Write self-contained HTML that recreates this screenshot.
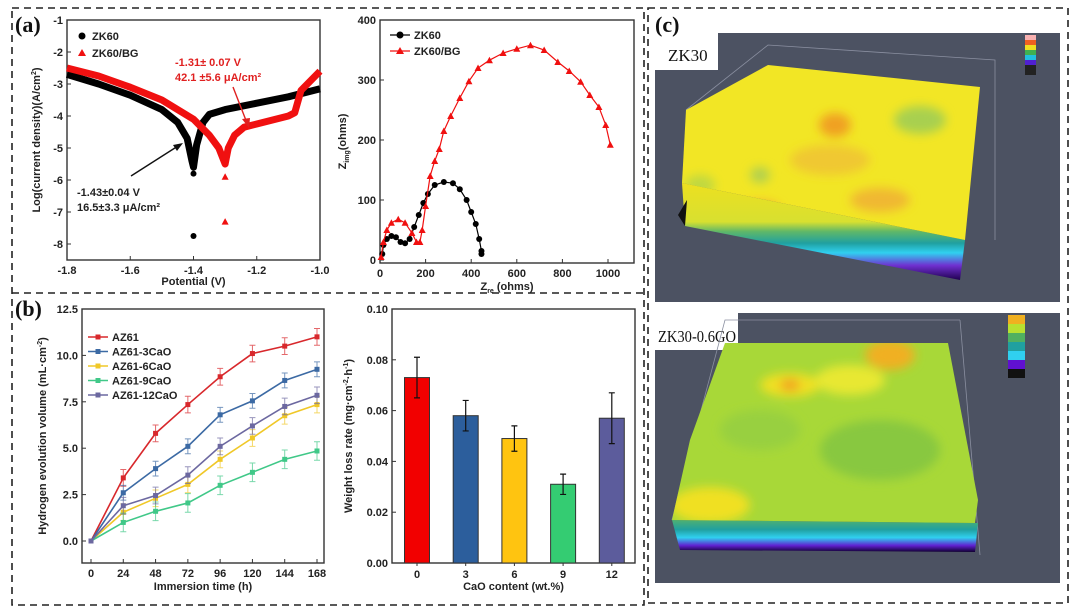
<!DOCTYPE html>
<html><head><meta charset="utf-8">
<style>
body{margin:0;background:#fff;}
svg{display:block;font-family:"Liberation Sans",Arial,sans-serif;}
.tk{font-size:11px;font-weight:bold;fill:#222;}
.ax{font-size:11px;font-weight:bold;fill:#222;}
.lg{font-size:11px;font-weight:bold;fill:#222;}
.pl{font-family:"Liberation Serif",serif;font-weight:bold;font-size:22px;fill:#111;}
</style></head>
<body>
<svg id="fig" width="1080" height="614" viewBox="0 0 1080 614" xmlns="http://www.w3.org/2000/svg">
<defs>
 <filter id="blur4"><feGaussianBlur stdDeviation="5"/></filter>
 <linearGradient id="sideA" x1="0" y1="0" x2="0" y2="1">
  <stop offset="0" stop-color="#ece020"/><stop offset="0.4" stop-color="#d8e030"/><stop offset="0.5" stop-color="#60b868"/><stop offset="0.62" stop-color="#20a0a0"/><stop offset="0.72" stop-color="#30d0f0"/><stop offset="0.85" stop-color="#7030d0"/><stop offset="1" stop-color="#200050"/>
 </linearGradient>
 <linearGradient id="sideB" x1="0" y1="0" x2="0" y2="1">
  <stop offset="0" stop-color="#50b070"/><stop offset="0.3" stop-color="#20a0a0"/><stop offset="0.55" stop-color="#30d0f0"/><stop offset="0.8" stop-color="#6020d0"/><stop offset="1" stop-color="#100030"/>
 </linearGradient>
 <clipPath id="clipTop"><polygon points="768,65 980,87 965,240 682,183 686,110"/></clipPath>
 <clipPath id="clipBot"><polygon points="725,343 948,343 978,500 975,523 672,520 690,440"/></clipPath>
</defs>

<g fill="none" stroke="#222" stroke-width="1.6" stroke-dasharray="7,5">
 <rect x="12" y="8" width="632" height="597"/>
 <line x1="12" y1="293" x2="644" y2="293"/>
 <rect x="648" y="8" width="420" height="595"/>
</g>
<text class="pl" x="15" y="32">(a)</text>
<text class="pl" x="15" y="316">(b)</text>
<text class="pl" x="655" y="32">(c)</text>

<g id="gTafel"></g>
<g id="gNyq"></g>
<g id="gH2"></g>
<g id="gBar"></g>

<g>
 <polygon points="718,33 1060,33 1060,302 655,302 655,70 718,70" fill="#4c5262"/>
 <text x="668" y="61" font-family="Liberation Serif,serif" font-size="17" fill="#111">ZK30</text>
 <polyline points="686,110 768,45 995,60 995,240" fill="none" stroke="#8a8fa0" stroke-width="0.8"/>
 <polygon points="682,183 965,240 960,280 685,226" fill="url(#sideA)"/>
 <polygon points="678,215 685,226 687,200" fill="#111"/>
 <polygon points="768,65 980,87 965,240 682,183 686,110" fill="#f2e625"/>
 <g clip-path="url(#clipTop)" filter="url(#blur4)">
  <ellipse cx="835" cy="125" rx="16" ry="12" fill="#f0a020"/>
  <ellipse cx="920" cy="120" rx="26" ry="14" fill="#a8d050"/>
  <ellipse cx="760" cy="175" rx="10" ry="8" fill="#b0d050"/>
  <ellipse cx="760" cy="210" rx="20" ry="8" fill="#f0a030"/>
  <ellipse cx="880" cy="200" rx="30" ry="12" fill="#f0b830"/>
  <ellipse cx="830" cy="160" rx="40" ry="15" fill="#f0c830"/>
  <ellipse cx="700" cy="185" rx="15" ry="10" fill="#c0d840"/>
 </g>
 <rect x="1025" y="35" width="11" height="40" fill="#222"/>
 <rect x="1025" y="35" width="11" height="5" fill="#f8b0b0"/><rect x="1025" y="40" width="11" height="5" fill="#f06020"/><rect x="1025" y="45" width="11" height="5" fill="#f0e020"/><rect x="1025" y="50" width="11" height="5" fill="#40b050"/><rect x="1025" y="55" width="11" height="5" fill="#20c0e0"/><rect x="1025" y="60" width="11" height="5" fill="#5020d0"/>
</g>

<g>
 <polygon points="738,313 1060,313 1060,583 655,583 655,350 738,350" fill="#4c5262"/>
 <text x="658" y="342" font-family="Liberation Serif,serif" font-size="17" textLength="78" lengthAdjust="spacingAndGlyphs" fill="#111">ZK30-0.6GO</text>
 <polyline points="672,520 725,320 960,320" fill="none" stroke="#8a8fa0" stroke-width="0.8"/>
 <line x1="960" y1="320" x2="980" y2="555" stroke="#8a8fa0" stroke-width="0.8"/>
 <polygon points="672,520 978,523 975,552 680,550" fill="url(#sideB)"/>
 <polygon points="725,343 948,343 978,500 975,523 672,520 690,440" fill="#a8d838"/>
 <g clip-path="url(#clipBot)" filter="url(#blur4)">
  <ellipse cx="890" cy="355" rx="25" ry="15" fill="#f0b020"/>
  <ellipse cx="790" cy="385" rx="30" ry="12" fill="#f0e020"/>
  <ellipse cx="790" cy="385" rx="10" ry="6" fill="#f0a020"/>
  <ellipse cx="850" cy="380" rx="35" ry="15" fill="#e8e830"/>
  <ellipse cx="710" cy="505" rx="40" ry="18" fill="#f0e020"/>
  <ellipse cx="880" cy="450" rx="60" ry="30" fill="#88c840"/>
  <ellipse cx="760" cy="430" rx="40" ry="20" fill="#98d040"/>
 </g>
 <rect x="1008" y="315" width="17" height="63" fill="#111"/>
 <rect x="1008" y="315" width="17" height="9" fill="#f0b020"/><rect x="1008" y="324" width="17" height="9" fill="#b8e030"/><rect x="1008" y="333" width="17" height="9" fill="#50b060"/><rect x="1008" y="342" width="17" height="9" fill="#20a0a0"/><rect x="1008" y="351" width="17" height="9" fill="#30d0f0"/><rect x="1008" y="360" width="17" height="9" fill="#6010d0"/>
</g>

<script>
const tafelBlackE=[-1.8,-1.7,-1.6,-1.5,-1.45,-1.42,-1.405,-1.40,-1.39,-1.37,-1.35,-1.3,-1.2,-1.1,-1.0];
const tafelBlackI=[-2.7,-3.0,-3.35,-3.8,-4.2,-4.7,-5.4,-5.6,-4.9,-4.2,-3.95,-3.8,-3.6,-3.4,-3.15];
const tafelRedE=[-1.8,-1.7,-1.6,-1.5,-1.4,-1.35,-1.32,-1.30,-1.29,-1.27,-1.24,-1.2,-1.1,-1.08,-1.06,-1.03,-1.0];
const tafelRedI=[-2.5,-2.75,-3.1,-3.5,-4.1,-4.6,-5.0,-5.5,-5.0,-4.6,-4.35,-4.25,-4.0,-3.9,-3.2,-2.9,-2.6];
const tafelOutE=[-1.4,-1.4,-1.3,-1.3];
const tafelOutI=[-5.8,-7.75,-5.9,-7.3];
const tafelXTicks=[-1.8,-1.6,-1.4,-1.2,-1.0];
const tafelYTicks=[-1,-2,-3,-4,-5,-6,-7,-8];

const nyqBlackRe=[10,15,30,50,70,90,110,130,150,170,190,210,240,280,320,350,380,400,420,435,445,445];
const nyqBlackIm=[10,25,35,40,38,30,28,35,55,75,95,110,125,130,128,118,100,80,60,35,15,10];
const nyqRedRe=[5,15,30,50,80,110,140,160,175,185,200,220,240,260,280,310,350,390,430,480,540,600,660,720,780,830,880,920,960,990,1010];
const nyqRedIm=[5,30,50,62,68,62,45,30,30,50,90,140,165,185,215,240,270,298,320,333,345,352,358,350,330,315,297,275,255,225,192];
const nyqXTicks=[0,200,400,600,800,1000];
const nyqYTicks=[0,100,200,300,400];

const h2Times=[0,24,48,72,96,120,144,168];
const h2Names=["AZ61","AZ61-3CaO","AZ61-6CaO","AZ61-9CaO","AZ61-12CaO"];
const h2AZ61=[0,3.4,5.8,7.35,8.85,10.1,10.5,11.0];
const h2Ca3=[0,2.6,3.9,5.1,6.8,7.55,8.65,9.25];
const h2Ca6=[0,1.55,2.3,3.05,4.4,5.55,6.75,7.35];
const h2Ca9=[0,1.0,1.6,2.05,3.0,3.7,4.4,4.85];
const h2Ca12=[0,1.9,2.45,3.55,5.1,6.2,7.25,7.85];
const h2Err=[0.45,0.4,0.45,0.5,0.45];
const h2YTicks=[0,2.5,5,7.5,10,12.5];

const barCats=["0","3","6","9","12"];
const barVals=[0.073,0.058,0.049,0.031,0.057];
const barErrs=[0.008,0.006,0.005,0.004,0.010];
const barYTicks=[0,0.02,0.04,0.06,0.08,0.10];

const NS="http://www.w3.org/2000/svg";
function mk(parent,tag,attrs){const e=document.createElementNS(NS,tag);for(const k in attrs)e.setAttribute(k,attrs[k]);parent.appendChild(e);return e;}
function lin(d0,d1,r0,r1){return v=>r0+(v-d0)*(r1-r0)/(d1-d0);}
function frame(g,x0,y0,x1,y1){const r=mk(g,'rect',{x:x0,y:y0,width:x1-x0,height:y1-y0,fill:'none',stroke:'#333','stroke-width':1.4});

}
function txt(g,x,y,s,cls,anchor,name){const t=mk(g,'text',{x:x,y:y,class:cls,'text-anchor':anchor||'middle'});t.textContent=s;

return t;}
// rich text: parts = [[text, 'n'|'sup'|'sub'], ...]
function rich(g,x,y,parts,name,rot){const t=mk(g,'text',{x:0,y:0,class:'ax','text-anchor':'middle'});
 
 
 let cur=0;
 parts.forEach(p=>{const target=p[1]==='sup'?-4:p[1]==='sub'?3:0;const ts=mk(t,'tspan',{dy:target-cur});if(p[1]!=='n')ts.setAttribute('font-size','7');ts.textContent=p[0];cur=target;});
 t.setAttribute('transform',`translate(${x},${y})`+(rot?' rotate(-90)':''));return t;}

(function(){
 const g=document.getElementById('gTafel');
 const X0=67,X1=320,Y0=20,Y1=260;
 const sx=lin(-1.8,-1.0,X0,X1), sy=lin(-1,-8,20,244);
 frame(g,X0,Y0,X1,Y1);
 tafelXTicks.forEach(v=>{mk(g,'line',{x1:sx(v),x2:sx(v),y1:Y1,y2:Y1-4,stroke:'#333'});txt(g,sx(v),Y1+14,v.toFixed(1),'tk','middle','x-tick-label');});
 tafelYTicks.forEach(v=>{mk(g,'line',{x1:X0,x2:X0+4,y1:sy(v),y2:sy(v),stroke:'#333'});txt(g,X0-4,sy(v)+4,String(v),'tk','end','y-tick-label');});
 const lineB=mk(g,'polyline',{points:tafelBlackE.map((e,i)=>sx(e)+','+sy(tafelBlackI[i])).join(' '),fill:'none',stroke:'#000','stroke-width':7,'stroke-linejoin':'round'});
 
 
 const lineR=mk(g,'polyline',{points:tafelRedE.map((e,i)=>sx(e)+','+sy(tafelRedI[i])).join(' '),fill:'none',stroke:'#f01010','stroke-width':7,'stroke-linejoin':'round'});
 
 
 tafelOutE.forEach((e,i)=>{const x=sx(e),y=sy(tafelOutI[i]);let m;
  if(i<2)m=mk(g,'circle',{cx:x,cy:y,r:3,fill:'#000'});else m=mk(g,'polygon',{points:`${x},${y-3.5} ${x-3.5},${y+3} ${x+3.5},${y+3}`,fill:'#f01010'});
  
  });
 txt(g,(X0+X1)/2,285,'Potential (V)','ax','middle','x-axis-title');
 rich(g,40,(Y0+Y1)/2,[['Log(current density)(A/cm','n'],['2','sup'],[')','n']],'y-axis-title',true);
 mk(g,'circle',{cx:82,cy:36,r:3.5,fill:'#000'});txt(g,92,40,'ZK60','lg','start','legend-entry-zk60');
 mk(g,'polygon',{points:'82,49 78,56 86,56',fill:'#f01010'});txt(g,92,57,'ZK60/BG','lg','start','legend-entry-zk60-bg');
 const a1=txt(g,175,66,'-1.31± 0.07 V','lg','start','zk60-bg-annotation');a1.style.fill='#e02020';
 const a2=txt(g,175,81,'42.1 ±5.6 μA/cm²','lg','start','zk60-bg-annotation-current');a2.style.fill='#e02020';
 mk(g,'line',{x1:233,y1:87,x2:247,y2:123,stroke:'#e02020','stroke-width':1.4});
 mk(g,'polygon',{points:'249,128 242,119 250,118',fill:'#e02020'});
 txt(g,77,196,'-1.43±0.04 V','lg','start','zk60-annotation');
 txt(g,77,211,'16.5±3.3 μA/cm²','lg','start','zk60-annotation-current');
 mk(g,'line',{x1:131,y1:176,x2:178,y2:146,stroke:'#111','stroke-width':1.4});
 mk(g,'polygon',{points:'183,143 173,145 177,151',fill:'#111'});
})();

(function(){
 const g=document.getElementById('gNyq');
 const X0=380,X1=634,Y0=20,Y1=263;
 const sx=lin(0,1000,X0,608), sy=lin(0,400,260,20);
 frame(g,X0,Y0,X1,Y1);
 nyqXTicks.forEach(v=>{mk(g,'line',{x1:sx(v),x2:sx(v),y1:Y1,y2:Y1-4,stroke:'#333'});txt(g,sx(v),Y1+14,String(v),'tk','middle','x-tick-label');});
 nyqYTicks.forEach(v=>{mk(g,'line',{x1:X0,x2:X0+4,y1:sy(v),y2:sy(v),stroke:'#333'});txt(g,X0-4,sy(v)+4,String(v),'tk','end','y-tick-label');});
 const pb=mk(g,'polyline',{points:nyqBlackRe.map((r,i)=>sx(r)+','+sy(nyqBlackIm[i])).join(' '),fill:'none',stroke:'#000','stroke-width':1.2});
 
 
 nyqBlackRe.forEach((r,i)=>{const c=mk(g,'circle',{cx:sx(r),cy:sy(nyqBlackIm[i]),r:3,fill:'#000'});
  
  });
 const pr=mk(g,'polyline',{points:nyqRedRe.map((r,i)=>sx(r)+','+sy(nyqRedIm[i])).join(' '),fill:'none',stroke:'#f01010','stroke-width':1.2});
 
 
 nyqRedRe.forEach((r,i)=>{const x=sx(r),y=sy(nyqRedIm[i]);const p=mk(g,'polygon',{points:`${x},${y-3.5} ${x-3.5},${y+3} ${x+3.5},${y+3}`,fill:'#f01010'});
  
  });
 rich(g,(X0+X1)/2,290,[['Z','n'],['re','sub'],[' (ohms)','n']],'x-axis-title',false);
 rich(g,346,(Y0+Y1)/2,[['Z','n'],['img','sub'],['(ohms)','n']],'y-axis-title',true);
 mk(g,'line',{x1:390,x2:410,y1:35,y2:35,stroke:'#000','stroke-width':1.2});mk(g,'circle',{cx:400,cy:35,r:3.5,fill:'#000'});txt(g,414,39,'ZK60','lg','start','legend-entry-zk60');
 mk(g,'line',{x1:390,x2:410,y1:51,y2:51,stroke:'#f01010','stroke-width':1.2});mk(g,'polygon',{points:'400,47 396,54 404,54',fill:'#f01010'});txt(g,414,55,'ZK60/BG','lg','start','legend-entry-zk60-bg');
})();

(function(){
 const g=document.getElementById('gH2');
 const X0=82,X1=324,Y0=309,Y1=563;
 const sx=lin(0,168,91,317), sy=lin(0,12.5,541,309);
 frame(g,X0,Y0,X1,Y1);
 h2Times.forEach(v=>{mk(g,'line',{x1:sx(v),x2:sx(v),y1:Y1,y2:Y1-4,stroke:'#333'});txt(g,sx(v),Y1+14,String(v),'tk','middle','x-tick-label');});
 h2YTicks.forEach(v=>{mk(g,'line',{x1:X0,x2:X0+4,y1:sy(v),y2:sy(v),stroke:'#333'});txt(g,X0-4,sy(v)+4,v.toFixed(1),'tk','end','y-tick-label');});
 const series=[h2AZ61,h2Ca3,h2Ca6,h2Ca9,h2Ca12];
 const cols=['#d8282c','#3c6aa4','#f0c828','#40c888','#6c68a0'];
 const names=['az61','az61-3cao','az61-6cao','az61-9cao','az61-12cao'];
 series.forEach((s,k)=>{
  s.forEach((v,i)=>{if(i===0)return;const e=h2Err[k];
   const eb=mk(g,'path',{d:`M${sx(h2Times[i])},${sy(v+e)}V${sy(v-e)}M${sx(h2Times[i])-3},${sy(v+e)}h6M${sx(h2Times[i])-3},${sy(v-e)}h6`,stroke:cols[k],'stroke-width':1,fill:'none',opacity:0.7});
   
   });
  const pl=mk(g,'polyline',{points:s.map((v,i)=>sx(h2Times[i])+','+sy(v)).join(' '),fill:'none',stroke:cols[k],'stroke-width':1.6});
  
  
  s.forEach((v,i)=>{const m=mk(g,'rect',{x:sx(h2Times[i])-2.5,y:sy(v)-2.5,width:5,height:5,fill:cols[k]});
   
   });
  const ly=337+k*14.5;
  mk(g,'line',{x1:88,x2:108,y1:ly,y2:ly,stroke:cols[k],'stroke-width':1.6});mk(g,'rect',{x:95.5,y:ly-2.5,width:5,height:5,fill:cols[k]});
  txt(g,112,ly+4,h2Names[k],'lg','start','legend-entry-'+names[k]);
 });
 txt(g,(X0+X1)/2,590,'Immersion time (h)','ax','middle','x-axis-title');
 rich(g,46,(Y0+Y1)/2,[['Hydrogen evolution volume (mL·cm','n'],['-2','sup'],[')','n']],'y-axis-title',true);
})();

(function(){
 const g=document.getElementById('gBar');
 const X0=392,X1=635,Y0=309,Y1=563;
 const sy=lin(0,0.10,563,309);
 const cx=i=>417+i*48.7;
 frame(g,X0,Y0,X1,Y1);
 const cols=['#f20000','#2c5e9c','#ffc410','#34cc72','#5c5c9c'];
 barYTicks.forEach(v=>{mk(g,'line',{x1:X0,x2:X0+4,y1:sy(v),y2:sy(v),stroke:'#333'});txt(g,X0-4,sy(v)+4,v.toFixed(2),'tk','end','y-tick-label');});
 barCats.forEach((c,i)=>{
  const b=mk(g,'rect',{x:cx(i)-12.5,y:sy(barVals[i]),width:25,height:sy(0)-sy(barVals[i]),fill:cols[i],stroke:'#333','stroke-width':1});
  
  
  const v=barVals[i],e=barErrs[i];
  const eb=mk(g,'path',{d:`M${cx(i)},${sy(v+e)}V${sy(v-e)}M${cx(i)-3},${sy(v+e)}h6M${cx(i)-3},${sy(v-e)}h6`,stroke:'#111','stroke-width':1.2,fill:'none'});
  
  
  mk(g,'line',{x1:cx(i),x2:cx(i),y1:Y1,y2:Y1+3,stroke:'#333'});
  txt(g,cx(i),Y1+15,c,'tk','middle','x-tick-label');
 });
 txt(g,(X0+X1)/2,590,'CaO content (wt.%)','ax','middle','x-axis-title');
 rich(g,352,(Y0+Y1)/2,[['Weight loss rate (mg·cm','n'],['-2','sup'],['·h','n'],['-1','sup'],[')','n']],'y-axis-title',true);
})();
</script>
</svg>
</body></html>
